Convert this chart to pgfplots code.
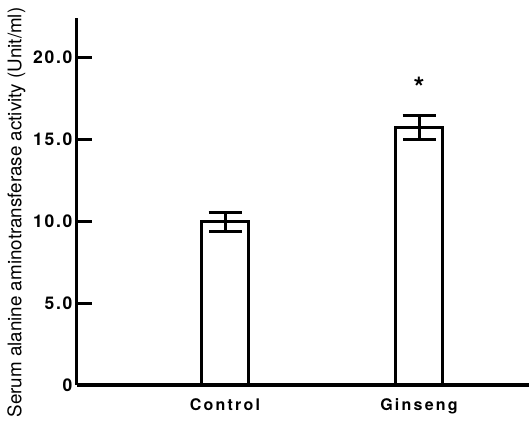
\documentclass[border=0pt]{standalone}
\usepackage{pgfplots}
\pgfplotsset{compat=1.18}
\usepackage{fontspec}
\setmainfont{TeX Gyre Heros}
\begin{document}
\begin{tikzpicture}
\begin{axis}[
  scale only axis,
  width=452bp, height=367bp,
  xmin=0.237, xmax=2.567,
  ymin=0, ymax=22.4,
  axis lines=left,
  axis line style={-, line width=3bp},
  xtick={1,2},
  xticklabels={Control,Ginseng},
  major x tick style={draw=none},
  x tick label style={font=\fontsize{16bp}{19bp}\selectfont\bfseries\addfontfeature{LetterSpace=14}, yshift=-10bp},
  ytick={0,5,10,15,20},
  yticklabels={0,5.0,10.0,15.0,20.0},
  y tick label style={font=\fontsize{17.5bp}{20bp}\selectfont\bfseries\addfontfeature{LetterSpace=10}, xshift=-1bp},
  major y tick style={line width=3bp, black},
  tick align=inside,
  major tick length=15bp,
  /pgf/number format/assume math mode=true,
  ylabel={Serum alanine aminotransferase activity (Unit/ml)},
  ylabel style={font=\fontsize{18.8bp}{21bp}\selectfont, at={(axis description cs:-0.134,0.47)}, anchor=center, rotate=0},
  clip=false,
]
\addplot[ybar, bar width=47bp, fill=white, draw=black, line width=3bp,
  error bars/.cd, y dir=both, y explicit,
  error bar style={line width=3bp, black},
  error mark options={rotate=90, mark size=16.5bp, line width=3bp, black}]
  coordinates {
    (1,10.0) +- (0,0.5) -= (0,0.65)
    (2,15.7) +- (0,0.75) -= (0,0.7)
  };
\node[font=\fontsize{28bp}{30bp}\selectfont\bfseries] at (axis cs:2,18.2) {*};
\end{axis}
\pgfresetboundingbox
\path[use as bounding box] ([xshift=-77bp,yshift=-36bp]current axis.south west) rectangle ([yshift=18bp]current axis.north east);
\end{tikzpicture}
\end{document}
